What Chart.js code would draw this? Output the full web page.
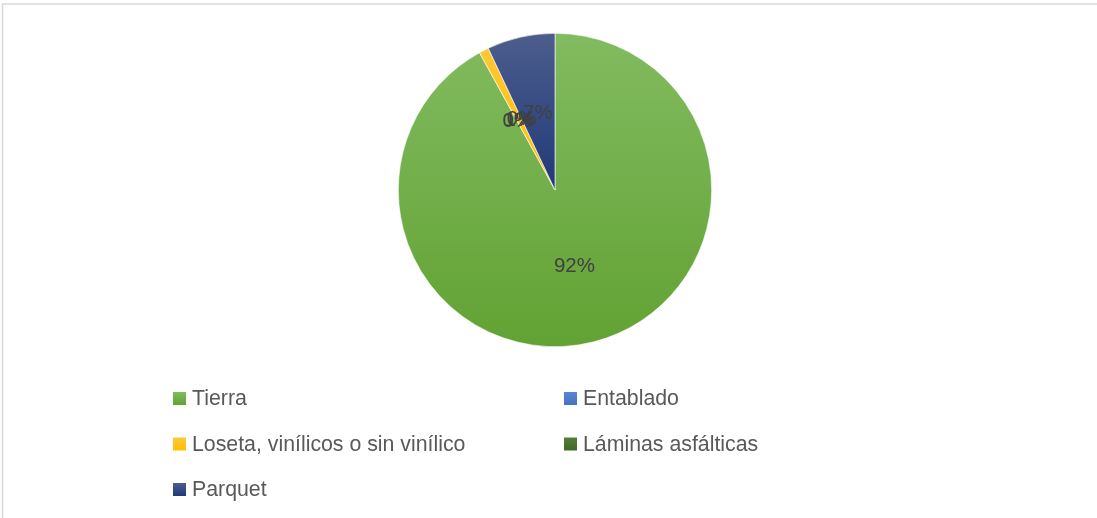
<!DOCTYPE html>
<html>
<head>
<meta charset="utf-8">
<script src="https://cdn.jsdelivr.net/npm/chart.js@4/dist/chart.umd.min.js"></script>
<style>
  html, body { margin: 0; padding: 0; background: #fff; overflow: hidden; }
  #wrap { position: relative; width: 1097px; height: 518px; }
</style>
</head>
<body>
<div id="wrap"><canvas id="pie"></canvas></div>
<script>
// Tipo de piso
const categories = ['Tierra', 'Entablado', 'Loseta, vinílicos o sin vinílico', 'Láminas asfálticas', 'Parquet'];
const values = [92, 0, 1, 0, 7];
const baseColors = ['#62a233', '#4472c4', '#ffc000', '#43682b', '#1f3a78'];
const topColors = ['#82bb60', '#5b85d0', '#ffc83a', '#557d3a', '#4d5d8d'];

function sliceFill(context) {
    const i = context.dataIndex;
    const area = context.chart.chartArea;
    if (!area) return baseColors[i];
    const g = context.chart.ctx.createLinearGradient(0, area.top, 0, area.bottom);
    g.addColorStop(0, topColors[i]);
    // the big slice fades over the whole height, the small top ones over the upper half
    g.addColorStop(i === 0 ? 1 : 0.5, baseColors[i]);
    return g;
}

// Frame around the chart
const framePlugin = {
    id: 'frame',
    beforeDraw(chart) {
        const ctx = chart.ctx;
        ctx.save();
        ctx.strokeStyle = '#d9d9d9';
        ctx.lineWidth = 1.5;
        ctx.strokeRect(2.5, 4, 1200, 600);
        ctx.restore();
    }
};

// Percent labels at slice centroids
const pctLabels = {
    id: 'pctLabels',
    afterDatasetsDraw(chart) {
        const ctx = chart.ctx;
        const data = chart.data.datasets[0].data;
        const total = data.reduce((a, b) => a + b, 0);
        const meta = chart.getDatasetMeta(0);
        ctx.save();
        ctx.font = '20.5px "Liberation Sans", Arial, sans-serif';
        ctx.fillStyle = '#404040';
        ctx.textAlign = 'center';
        ctx.textBaseline = 'middle';
        meta.data.forEach((arc, i) => {
            const p = arc.tooltipPosition();
            const pct = Math.round(data[i] / total * 100) + '%';
            ctx.fillText(pct, p.x, p.y);
        });
        ctx.restore();
    }
};

// Two-column legend below the pie
const gridLegend = {
    id: 'gridLegend',
    afterDraw(chart) {
        const ctx = chart.ctx;
        const cols = [173, 564];
        const rows = [398.5, 444, 489.5];
        ctx.save();
        ctx.font = '21.3px "Liberation Sans", Arial, sans-serif';
        ctx.textBaseline = 'middle';
        ctx.textAlign = 'left';
        chart.data.labels.forEach((label, i) => {
            const x = cols[i % 2];
            const y = rows[Math.floor(i / 2)];
            const g = ctx.createLinearGradient(0, y - 6.5, 0, y + 6.5);
            g.addColorStop(0, topColors[i]);
            g.addColorStop(1, baseColors[i]);
            ctx.fillStyle = g;
            ctx.fillRect(x, y - 6.5, 13, 13);
            ctx.fillStyle = '#595959';
            ctx.fillText(label, x + 19, y + 1);
        });
        ctx.restore();
    }
};

new Chart(document.getElementById('pie'), {
    type: 'pie',
    data: {
        labels: categories,
        datasets: [{
            data: values,
            backgroundColor: sliceFill,
            borderColor: '#ffffff',
            borderWidth: 0.6
        }]
    },
    options: {
        responsive: true,
        maintainAspectRatio: false,
        animation: false,
        layout: {
            padding: { top: 33, bottom: 171, left: 398, right: 385 }
        },
        plugins: {
            legend: { display: false },
            tooltip: { enabled: false }
        }
    },
    plugins: [framePlugin, pctLabels, gridLegend]
});
</script>
</body>
</html>
